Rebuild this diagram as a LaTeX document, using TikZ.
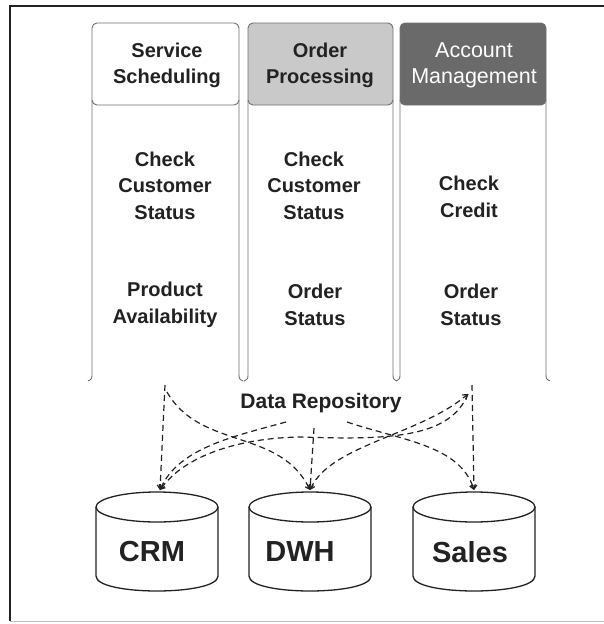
\documentclass[tikz,border=0pt]{standalone}
\usepackage{fontspec}
\setmainfont{Liberation Sans}
\usetikzlibrary{arrows.meta}
\definecolor{ink}{HTML}{222222}
\definecolor{edgegray}{HTML}{707070}
\definecolor{hdrmid}{HTML}{C9C9C9}
\definecolor{hdrdark}{HTML}{6A6A6A}
\begin{document}
\begin{tikzpicture}[x=1pt,y=-1pt,
  hdrtext/.style={font=\fontsize{20}{26}\selectfont\bfseries, align=center, text=ink, inner sep=0pt},
  hdrwhite/.style={font=\fontsize{21.5}{26}\selectfont, align=center, text=white, inner sep=0pt},
  bodytext/.style={font=\fontsize{20}{26.5}\selectfont\bfseries, align=center, text=ink, inner sep=0pt},
  dbtext/.style={font=\fontsize{29}{30}\selectfont\bfseries, text=ink, inner sep=0pt},
  drtext/.style={font=\fontsize{21}{24}\selectfont\bfseries, text=ink, inner sep=0pt},
  colline/.style={draw=edgegray, line width=0.9pt},
  hdrbox/.style={colline, rounded corners=5pt},
  dbline/.style={draw=ink, line width=1.3pt},
  link/.style={draw=ink, line width=1.2pt, dash pattern=on 6pt off 4pt,
    -{Straight Barb[length=4pt,width=6pt]}},
  link2/.style={draw=ink, line width=1.2pt, dash pattern=on 6pt off 4pt,
    {Straight Barb[length=4pt,width=6pt]}-{Straight Barb[length=4pt,width=6pt]}}
]
\useasboundingbox (0,0) rectangle (603,624);
\fill[white] (0,0) rectangle (603,624);

% outer frame
\draw[draw=black!25, line width=1pt] (10,621) -- (620,621);
\draw[draw=ink, line width=1.6pt] (10,621) -- (10,6) -- (620,6);

% columns
\foreach \xa/\xb/\fc in {92/239/white, 248/393/hdrmid, 400/546/hdrdark}{
  \draw[colline] (\xa-4,381) .. controls (\xa,379) .. (\xa,373) -- (\xa,100);
  \draw[colline] (\xb+4,381) .. controls (\xb,379) .. (\xb,373) -- (\xb,100);
  \draw[hdrbox, fill=\fc] (\xa,23) rectangle (\xb,105);
}

% header texts
\node[hdrtext] (h1) at (167,65.5) {Service\\Scheduling};
\node[hdrtext] (h2) at (320,65.5) {Order\\Processing};
\node[hdrwhite] (h3) at (474,65.5) {Account\\Management};

% body texts
\node[bodytext] (s1) at (165,185.5) {Check\\Customer\\Status};
\node[bodytext] (s2) at (165,305) {Product\\Availability};
\node[bodytext] (o1) at (314,185.5) {Check\\Customer\\Status};
\node[bodytext] (o2) at (315,305) {Order\\Status};
\node[bodytext] (a1) at (469,197) {Check\\Credit};
\node[bodytext] (a2) at (471,305) {Order\\Status};

% data repository label
\node[drtext] (dr) at (321,403) {Data Repository};

% databases
\foreach \cx/\nm in {157/crm, 310/dwh, 474/sales}{
  \draw[dbline] (\cx-61,507) -- (\cx-61,576)
     .. controls (\cx-61,596) and (\cx+61,596) .. (\cx+61,576) -- (\cx+61,507);
  \draw[dbline] (\cx,507) ellipse [x radius=61pt, y radius=15pt];
}
\node[dbtext] (crm) at (152,552) {CRM};
\node[dbtext] (dwh) at (300,552) {DWH};
\node[dbtext] (sales) at (470,552) {Sales};

% connector end points
\coordinate (crmtop) at (160,490);
\coordinate (dwhtop) at (310,490);
\coordinate (salestop) at (474,490);
\coordinate (ssb) at (165,385);
\coordinate (ssc) at (167,392);
\coordinate (amb) at (472,385);
\coordinate (amc) at (468,394);
\coordinate (drl) at (286,422);
\coordinate (drr) at (347,422);
\coordinate (drm) at (314,428);
\coordinate (mid) at (300,437);

% connectors
\draw[link] (ssb) -- (crmtop);
\draw[link] (ssc) .. controls (200,450) and (280,428) .. (dwhtop);
\draw[link] (drm) -- (dwhtop);
\draw[link] (drl) .. controls (235,436) and (178,448) .. (crmtop);
\draw[link] (drr) .. controls (400,440) and (460,445) .. (salestop);
\draw[link] (amb) -- (salestop);
\draw[link2] (dwhtop) .. controls (330,445) and (420,435) .. (amc);
\draw[link] (amc) .. controls (450,438) and (390,440) .. (mid)
   .. controls (240,438) and (185,455) .. (crmtop);
\end{tikzpicture}
\end{document}
